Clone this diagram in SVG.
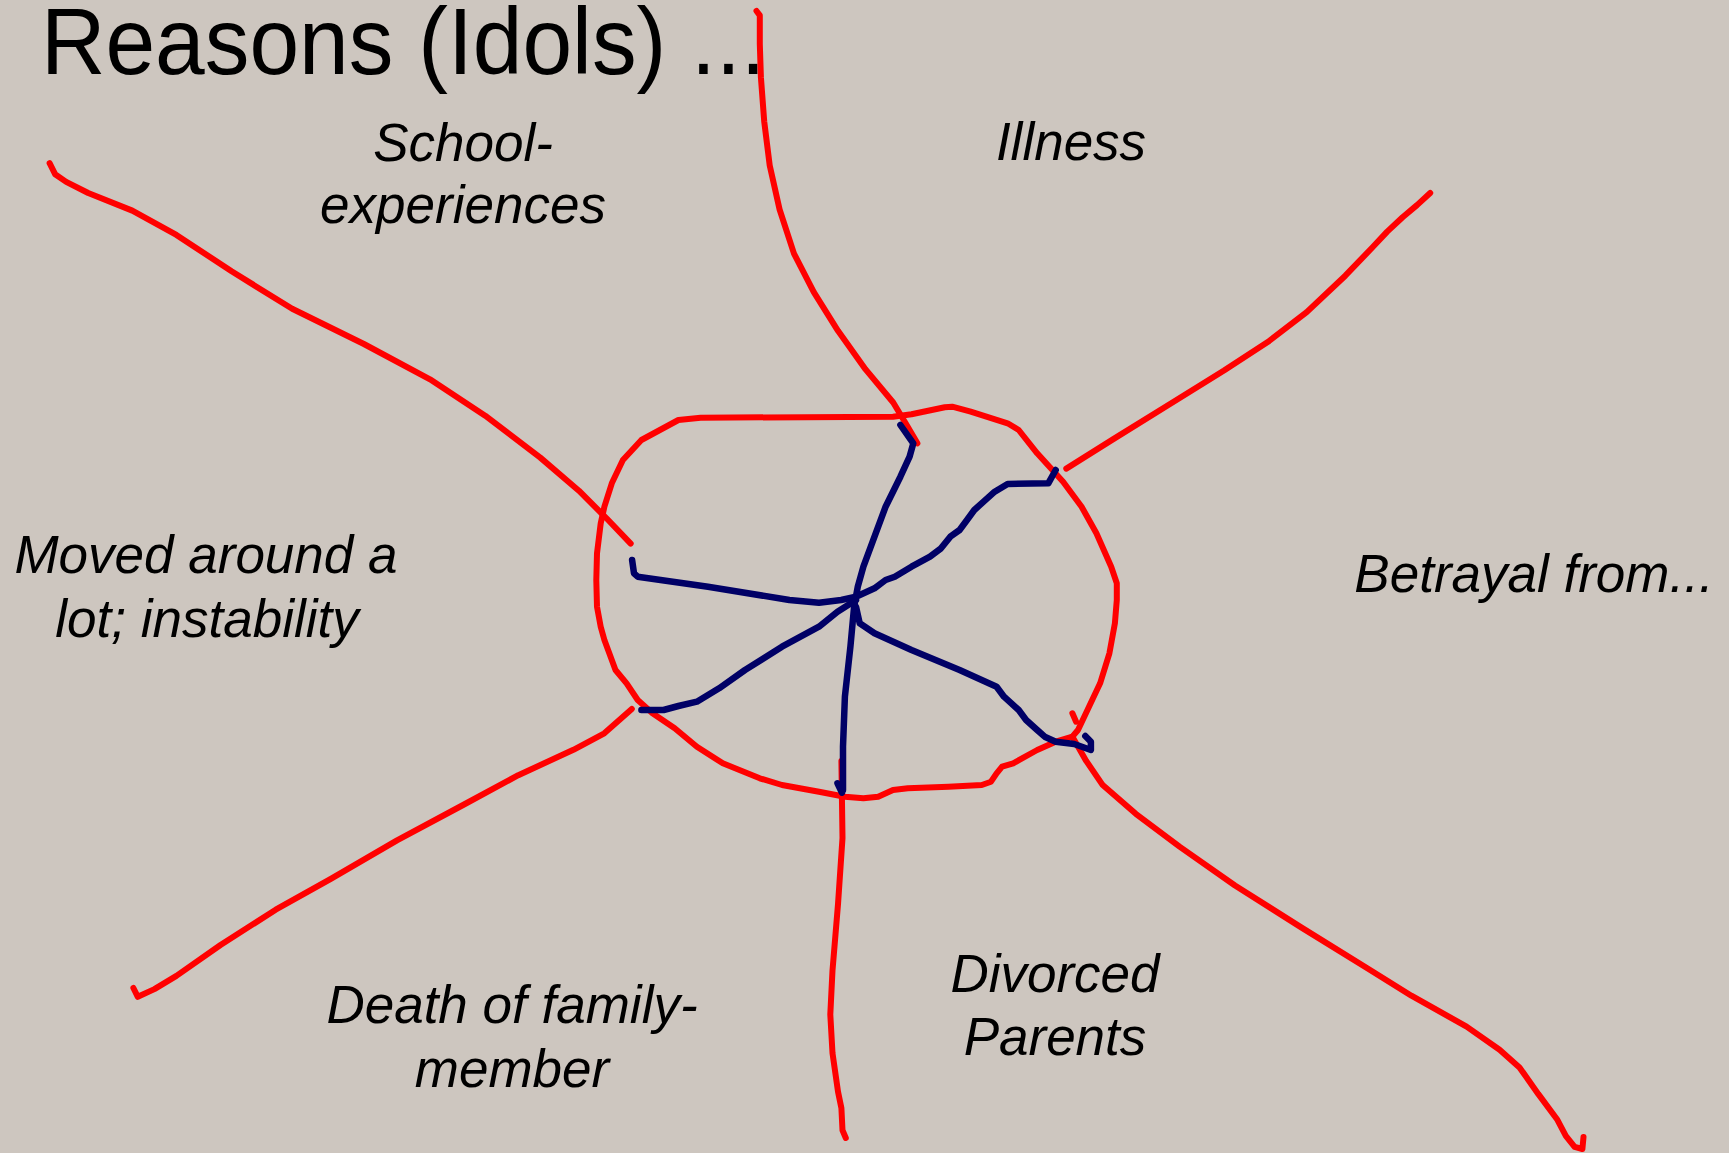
<svg xmlns="http://www.w3.org/2000/svg" width="1729" height="1153" viewBox="0 0 1729 1153">
<style>
.bg{fill:#cdc6bf}
.red{fill:none;stroke:#ff0000;stroke-width:6;stroke-linecap:round;stroke-linejoin:round}
.blue{fill:none;stroke:#000066;stroke-width:6.5;stroke-linecap:round;stroke-linejoin:round}
.lbl{font-family:"Liberation Sans",Arial,sans-serif;font-style:italic;font-size:53px;fill:#000;text-anchor:middle}
.title{font-family:"Liberation Sans",Arial,sans-serif;font-size:95px;fill:#000}
</style>
<rect class="bg" x="0" y="0" width="1729" height="1153"/>
<g id="title"><text class="title" transform="scale(0.94,1)" x="43.6" y="74">Reasons (Idols) ...</text></g>
<g id="labels">
<g id="school"><text class="lbl" x="463" y="161">School-</text><text class="lbl" x="463" y="223">experiences</text></g>
<g id="illness"><text class="lbl" x="1071" y="160">Illness</text></g>
<g id="moved"><text class="lbl" x="206" y="573">Moved around a</text><text class="lbl" x="207" y="637">lot; instability</text></g>
<g id="betrayal"><text class="lbl" x="1534" y="592">Betrayal from...</text></g>
<g id="death"><text class="lbl" x="512" y="1023">Death of family-</text><text class="lbl" x="512" y="1087">member</text></g>
<g id="divorced"><text class="lbl" x="1055" y="992">Divorced</text><text class="lbl" x="1055" y="1055">Parents</text></g>
</g>
<g id="red-strokes">
<polyline class="red" points="49.6,163.2 55.1,174.2 66.2,181.9 88.2,193 132.3,210.6 176.4,234.9 231.6,271.3 292.2,308.8 363.9,344 430,379.3 485.2,415.7 540.3,457.6 578.9,490.7 606.5,518.3 630.7,543.6"/>
<polyline class="red" points="756.5,11 759.8,15.4 759.8,44 760.9,77.2 764.2,121.3 769.7,165.4 779.6,209.5 794,253.6 813.8,292.2 838,330.8 865.6,369.4 893.2,402.5 906.4,424.5 917.4,443.3"/>
<polyline class="red" points="1066.3,468.6 1113.7,438.9 1168.8,404.7 1224,370.5 1268.1,341.8 1306.7,312.1 1345.3,275.7 1372.8,247 1387.2,231.6 1402.6,217.2 1417,205.1 1430.2,193"/>
<polyline class="red" points="631.8,709 604.3,733.3 573.4,749.8 518.3,775.2 463.1,805 397,840.3 330.8,878.9 275.7,909.7 220.5,945 176.4,975.9 154.4,989.1 137.8,996.8 133.4,988"/>
<polyline class="red" points="841.4,760.9 842.5,838 838,904.2 832.5,970.4 830.3,1014.5 832.5,1053.1 838,1091.7 841.4,1108.2 842.5,1130.3 845.8,1138"/>
<polyline class="red" points="1072.4,736.7 1086.2,760.9 1102.7,785.1 1135.8,813.8 1179.9,846.9 1235,885.5 1301.2,927.4 1367.3,968.2 1411.4,995.7 1466.6,1026.6 1499.6,1049.8 1519.5,1067.4 1538.2,1093.9 1557,1119.2 1565.8,1135.8 1574.6,1146.8 1582.4,1149 1583.5,1137"/>
<polyline class="red" points="1072.4,713.3 1076.1,721.7"/>
<path class="red" d="M700.6,417.7 L893,416.7 L911.5,414.3 L944.8,407.3 L952.2,406.7 L970.7,411.7 L1007.6,423.3 L1018.7,430 L1037.2,453.3 L1063.1,481.7 L1081.6,506.7 L1096.4,533.3 L1111.2,566.7 L1116.8,583.3 L1116.8,600 L1114.9,623.3 L1109.4,653.3 L1100.1,683.3 L1089,706.7 L1078,730 L1072.4,736.7 L1055.7,741.7 L1037.2,750 L1013.2,763.3 L1002.1,766.7 L996.6,773.3 L991,781.7 L981.8,785 L948.5,786.7 L907.8,788.3 L893,790 L878.2,796.7 L863.4,798.3 L844.9,796.7 L819,791.7 L782,785 L759.8,778.3 L722.8,763.3 L696.9,746.7 L674.7,728.3 L652.5,713.3 L637.7,700 L626.6,683.3 L615.5,670 L608.1,650 L604.4,640 L600.7,626.7 L597,606.7 L596.3,580 L597,553.3 L600.7,523.3 L604.4,506.7 L611.8,483.3 L622.9,460 L641.4,440 L678.4,420 Z"/>
</g>
<g id="blue-strokes">
<polyline class="blue" points="900.4,425 913.3,443.3 909.6,456.7 900.4,476.7 885.6,506.7 874.5,536.7 863.4,566.7 857.8,586.7 854.1,606.7 850.4,646.7 844.9,696.7 843,746.7 843,790"/>
<polyline class="blue" points="837.5,783.3 841.9,792.7"/>
<polyline class="blue" points="632.1,560 634,573.3 637.7,576.7 708,586.7 789.4,600 819,602.7 841.2,600 856,596.7 874.5,588.3 885.6,580 894.8,576.7 911.5,566.7 930,556.7 941,548.3 950.3,536.7 959.6,530 967,520 974.3,510 983.6,501.7 994.7,491.7 1007.6,484 1048.3,483.3 1055.7,470"/>
<polyline class="blue" points="641.4,710 663.6,710 678.4,706 696.9,701.7 708,695 719.1,688.3 745,670 782,646.7 819,626.7 837.5,611.7 856,600"/>
<polyline class="blue" points="856,606.7 859.7,623.3 874.5,633.3 911.5,650 959.6,670 996.6,686.7 1004,696.7 1018.7,710 1026.1,720 1037.2,730 1044.7,736.7 1055.7,741.7 1074.2,744 1090.9,750 1090.9,741.7 1085.3,736"/>
</g>
</svg>
